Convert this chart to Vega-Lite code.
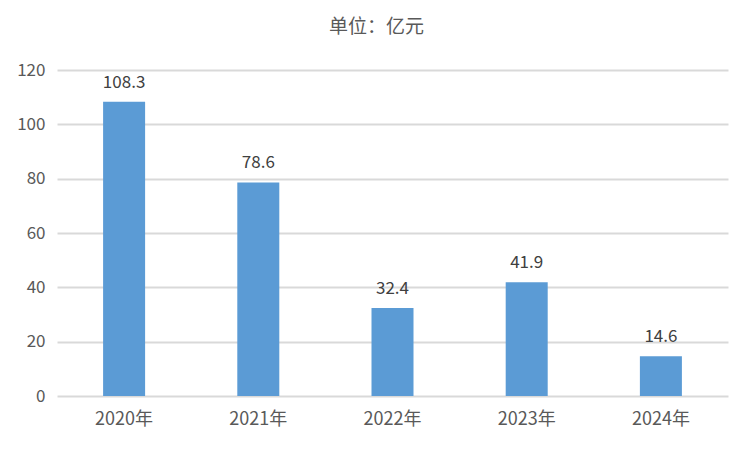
{
  "$schema": "https://vega.github.io/schema/vega-lite/v6.json",
  "autosize": {"type": "none"},
  "width": 671,
  "height": 326,
  "padding": {"left": 57, "top": 70, "right": 24, "bottom": 56},
  "background": "white",
  "title": {"text": "单位：亿元", "font": "Noto Sans CJK SC", "fontSize": 19, "fontWeight": "normal", "color": "#595959", "anchor": "middle", "dx": -16, "offset": 24},
  "data": {"values": [
    {"year": "2020年", "value": 108.3},
    {"year": "2021年", "value": 78.6},
    {"year": "2022年", "value": 32.4},
    {"year": "2023年", "value": 41.9},
    {"year": "2024年", "value": 14.6}
  ]},
  "config": {"view": {"stroke": null}, "font": "Noto Sans CJK SC"},
  "encoding": {
    "x": {"field": "year", "type": "nominal", "sort": null,
      "scale": {"paddingInner": 0.687, "paddingOuter": 0.3435},
      "axis": {"title": null, "labelAngle": 0, "ticks": false, "domain": false, "labelPadding": 14, "labelFontSize": 18, "labelColor": "#595959", "labelFont": "Noto Sans CJK SC"}},
    "y": {"field": "value", "type": "quantitative",
      "scale": {"domain": [0, 120], "nice": false},
      "axis": {"title": null, "values": [0, 20, 40, 60, 80, 100, 120], "ticks": false, "domain": false, "labelPadding": 12, "labelFontSize": 17, "labelColor": "#595959", "labelFont": "Noto Sans CJK SC", "gridColor": "#d9d9d9", "gridWidth": 2}}
  },
  "layer": [
    {"mark": {"type": "bar", "color": "#5B9BD5"}},
    {"mark": {"type": "text", "baseline": "bottom", "dy": -10, "fontSize": 17, "color": "#404040", "font": "Noto Sans CJK SC"},
     "encoding": {"text": {"field": "value", "type": "quantitative", "format": ".1f"}}}
  ]
}
